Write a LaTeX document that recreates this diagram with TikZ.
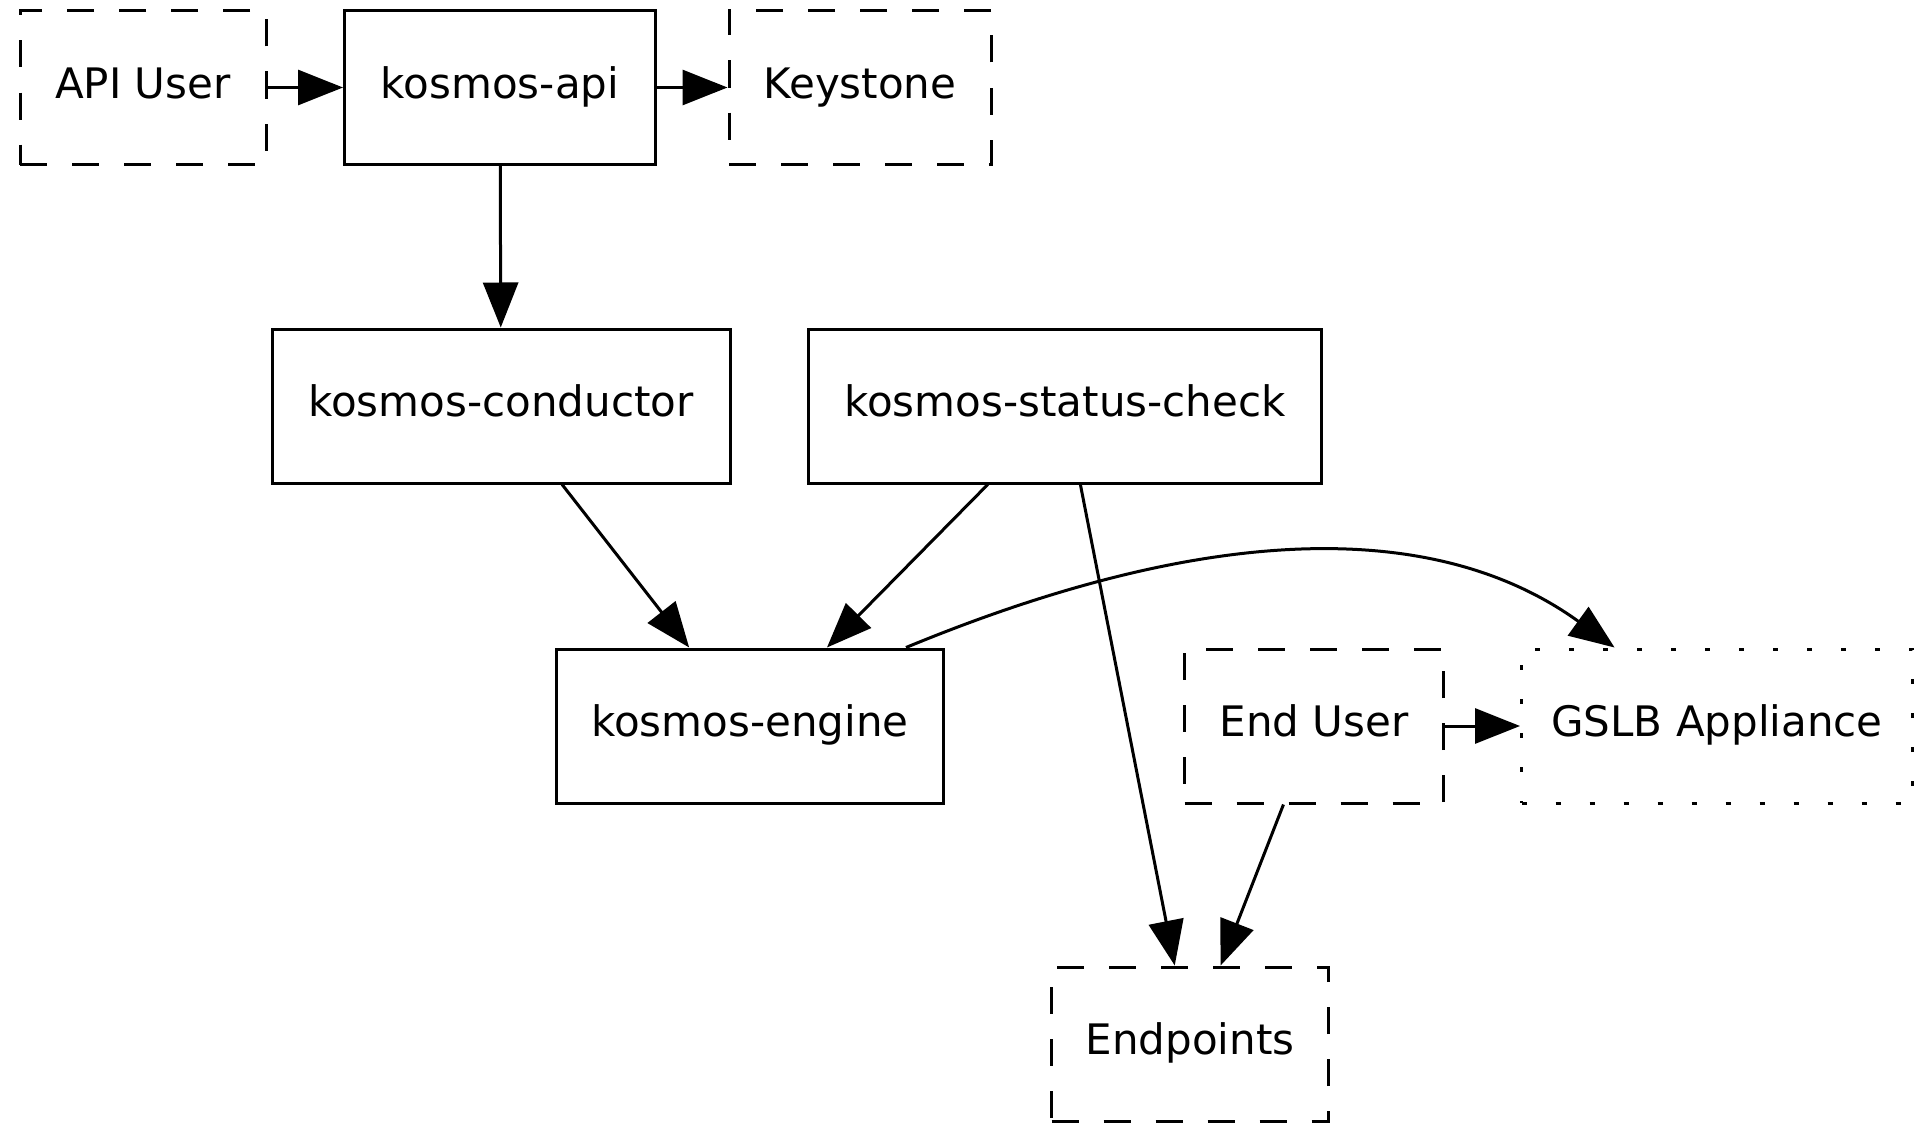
\documentclass[tikz,border=0pt]{standalone}
\usepackage{fontspec}
\setmainfont{DejaVu Sans}
\usetikzlibrary{arrows.meta,calc}

\begin{document}
\begin{tikzpicture}[x=1pt,y=-1pt,
  every node/.style={font=\fontsize{42}{50}\selectfont,text height=31pt,text depth=10pt},
  box/.style={draw,line width=3pt,rectangle,inner sep=0pt,minimum height=154pt},
  ext/.style={box,dash pattern=on 27pt off 25pt},
  dotbox/.style={box,dash pattern=on 5pt off 29pt},
  link/.style={line width=3pt,-{Triangle[length=45pt,width=35pt]}}]

  \useasboundingbox (0,0) rectangle (1916,1124);

  % components
  \node[ext,    minimum width=246pt] (apiuser)   at (143,87.5)  {API User};
  \node[box,    minimum width=311pt] (api)       at (500,87.5)  {kosmos-api};
  \node[ext,    minimum width=262pt] (keystone)  at (860,87.5)  {Keystone};
  \node[box,    minimum width=458pt] (conductor) at (501,406)   {kosmos-conductor};
  \node[box,    minimum width=513pt] (status)    at (1065,406)  {kosmos-status-check};
  \node[box,    minimum width=387pt] (engine)    at (750,726)   {kosmos-engine};
  \node[ext,    minimum width=259pt] (enduser)   at (1314,726)  {End User};
  \node[dotbox, minimum width=391pt] (gslb)      at (1717,726)  {GSLB Appliance};
  \node[ext,    minimum width=277pt] (endpoints) at (1190,1044) {Endpoints};

  % connections
  \draw[link] (apiuser) -- (api);
  \draw[link] (api) -- (keystone);
  \draw[link] (api) -- (conductor);
  \draw[link] (conductor) -- (engine);
  \draw[link] (status) -- (engine);
  \draw[link] (status) -- (endpoints);
  \draw[link] (enduser) -- (endpoints);
  \draw[link] (enduser) -- (gslb);
  \draw[link] ($(engine.north west)!0.9!(engine.north east)$)
    .. controls +(300,-124) and +(-180,-130) ..
    ($(gslb.north west)!0.24!(gslb.north east)$);
\end{tikzpicture}
\end{document}
